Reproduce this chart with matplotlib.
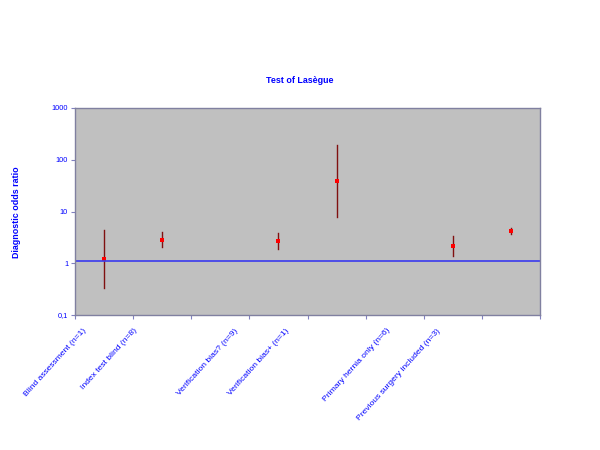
import numpy as np
import matplotlib.pyplot as plt

plt.rcParams['font.family'] = ['Liberation Sans', 'DejaVu Sans']

# data (log scale)
categories = ["Blind assessment (n=1)", "Index test blind (n=8)", "",
              "Verification bias? (n=9)", "Verification bias+ (n=1)", "",
              "Primary hernia only (n=6)", "Previous surgery included (n=3)"]
dor = [1.2, 2.87, np.nan, 2.7, 39.6, np.nan, 2.2, 4.2]
ci_low = [0.33, 2.07, np.nan, 1.87, 8.0, np.nan, 1.39, 3.7]
ci_high = [4.4, 4.05, np.nan, 3.8, 190, np.nan, 3.3, 4.8]
ref_line = 1.1

blue = '#0000ff'
x = np.arange(len(categories))

fig = plt.figure(figsize=(6, 4.5), dpi=100)
ax = fig.add_axes([0.125, 0.30, 0.775, 0.46])
ax.set_facecolor('#c0c0c0')

for i in x:
    if np.isnan(dor[i]):
        continue
    ax.plot([i, i], [ci_low[i], ci_high[i]], color='#801010', lw=1)
ax.plot(x, dor, ls='none', marker='s', ms=3, color='red', mew=0)
ax.axhline(ref_line, color='#3a3aee', lw=1.2)

ax.set_yscale('log')
ax.set_ylim(0.1, 1000)
ax.set_xlim(-0.5, len(categories) - 0.5)
ax.set_yticks([0.1, 1, 10, 100, 1000])
ax.set_yticklabels(['0,1', '1', '10', '100', '1000'])
ax.minorticks_off()
ax.tick_params(axis='y', colors='#8080c0', labelcolor=blue, labelsize=5.3,
               length=3, pad=2)

# category ticks sit between categories
ax.set_xticks(np.arange(-0.5, len(categories)))
ax.set_xticklabels([])
ax.tick_params(axis='x', length=3, colors='#8080c0')

# the original's rotated labels drift left of their categories
for i, lab in enumerate(categories):
    ax.text(-0.37 + 0.871 * i, -0.058, lab, transform=ax.get_xaxis_transform(),
            rotation=48, ha='right', va='top', rotation_mode='anchor',
            fontsize=6.1, color=blue)

for s in ax.spines.values():
    s.set_color('#8080a0')
    s.set_linewidth(1)

fig.text(0.5, 0.822, 'Test of Lasègue', ha='center', va='center',
         fontsize=6.4, fontweight='bold', color=blue)
fig.text(0.027, 0.529, 'Diagnostic odds ratio', rotation=90, ha='center',
         va='center', fontsize=6.4, fontweight='bold', color=blue)

fig.savefig('out.png', dpi=100, facecolor='white')
